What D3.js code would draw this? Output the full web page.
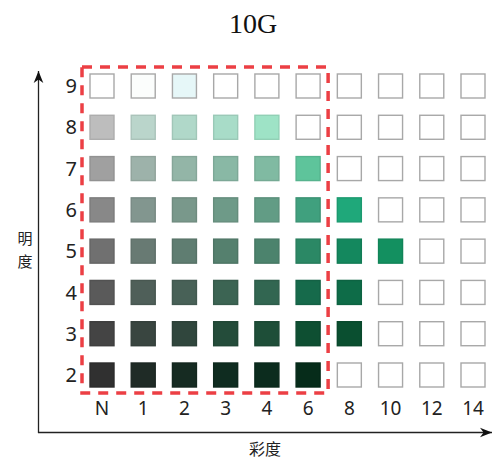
<!DOCTYPE html>
<html><head><meta charset="utf-8">
<script src="https://cdn.jsdelivr.net/npm/d3@7"></script>
<style>html,body{margin:0;padding:0;background:#fff;}svg{display:block;}</style>
</head><body>
<svg id="c" width="498" height="464"></svg>
<script>
const title = "10G";
const chromaLabels = ["N","1","2","3","4","6","8","10","12","14"];
const valueLabels = ["9","8","7","6","5","4","3","2"];
const xTitle = "彩度";
const yTitle = "明度";
// fill colours per value row (null = empty box)
const row9 = ["#ffffff","#fbfdfc","#e6f7f8","#ffffff","#ffffff","#ffffff",null,null,null,null];
const row8 = ["#bdbdbd","#bad5cb","#b0d8c9","#a8dcc8","#9ee3c6",null,null,null,null,null];
const row7 = ["#a0a0a0","#9db2aa","#93b5a7","#89b8a5","#80baa2","#5ec49b",null,null,null,null];
const row6 = ["#888888","#82968f","#79988b","#6e9a88","#629c85","#40a07e","#1fa87a",null,null,null];
const row5 = ["#707070","#687a73","#5f7d71","#55806e","#4c836d","#2b8865","#14885e","#139060",null,null];
const row4 = ["#5a5a5a","#4f5f59","#486157","#3c6453","#326651","#166a4b","#0e6c48",null,null,null];
const row3 = ["#444444","#394540","#30463d","#244c3a","#1e4e38","#0e4f32","#0a4f30",null,null,null];
const row2 = ["#303030","#1f2b26","#162b22","#0f2c20","#0c2c1e","#062c1a",null,null,null,null];
const rows = [row9,row8,row7,row6,row5,row4,row3,row2];
const highlightFrom = "N", highlightTo = "6";

const svg = d3.select("#c");
const x = d3.scalePoint().domain(chromaLabels).range([102,473]);
const y = d3.scalePoint().domain(valueLabels).range([86,375]);
const s = 24;

svg.append("text").attr("x",253).attr("y",33).attr("text-anchor","middle")
  .attr("font-family","Liberation Serif, serif").attr("font-size",28).attr("fill","#111").text(title);

const cells = [];
valueLabels.forEach((v,i)=>chromaLabels.forEach((c,j)=>cells.push({v,c,fill:rows[i][j]})));
const strokeFor = f => (!f || d3.hsl(f).l > 0.88) ? "#a8a8a8" : d3.color(f).darker(0.25);
svg.append("g").selectAll("rect").data(cells).join("rect")
  .attr("x",d=>x(d.c)-s/2).attr("y",d=>y(d.v)-s/2).attr("width",s).attr("height",s)
  .attr("fill",d=>d.fill||"#ffffff")
  .attr("stroke",d=>strokeFor(d.fill))
  .attr("stroke-width",1.4);

// highlight dashed frame
const x0 = x(highlightFrom)-20, x1 = x(highlightTo)+20;
const y0 = y(valueLabels[0])-19, y1 = y(valueLabels[valueLabels.length-1])+18;
svg.append("rect").attr("x",x0).attr("y",y0).attr("width",x1-x0).attr("height",y1-y0)
  .attr("fill","none").attr("stroke","#ec3f44").attr("stroke-width",3.5)
  .attr("stroke-dasharray","10,8");

// tick labels
svg.append("g").selectAll("text").data(chromaLabels).join("text")
  .attr("x",d=>x(d)).attr("y",415).attr("text-anchor","middle")
  .attr("font-family","Noto Sans, sans-serif").attr("font-size",19).attr("fill","#222").text(d=>d);
svg.append("g").selectAll("text").data(valueLabels).join("text")
  .attr("x",77).attr("y",d=>y(d)).attr("dy","0.36em").attr("text-anchor","end")
  .attr("font-family","Noto Sans, sans-serif").attr("font-size",20).attr("fill","#222").text(d=>d);

// axes arrows
const defs = svg.append("defs");
defs.append("marker").attr("id","ah").attr("viewBox","0 0 10 10").attr("refX",10).attr("refY",5)
  .attr("markerWidth",12).attr("markerHeight",12).attr("markerUnits","userSpaceOnUse").attr("orient","auto")
  .append("path").attr("d","M0,1 L10,5 L0,9 L3,5 Z").attr("fill","#111");
svg.append("line").attr("x1",38.5).attr("y1",433).attr("x2",38.5).attr("y2",71)
  .attr("stroke","#222").attr("stroke-width",1.3).attr("marker-end","url(#ah)");
svg.append("line").attr("x1",38).attr("y1",432.5).attr("x2",492).attr("y2",432.5)
  .attr("stroke","#222").attr("stroke-width",1.3).attr("marker-end","url(#ah)");

svg.append("text").attr("x",265).attr("y",455).attr("text-anchor","middle")
  .attr("font-family","Noto Sans CJK SC, sans-serif").attr("font-size",16).attr("fill","#222").text(xTitle);
svg.append("g").selectAll("text").data(Array.from(yTitle)).join("text")
  .attr("x",25).attr("y",(d,i)=>244+i*23).attr("text-anchor","middle")
  .attr("font-family","Noto Sans CJK SC, sans-serif").attr("font-size",15).attr("fill","#222").text(d=>d);
</script>
</body></html>
